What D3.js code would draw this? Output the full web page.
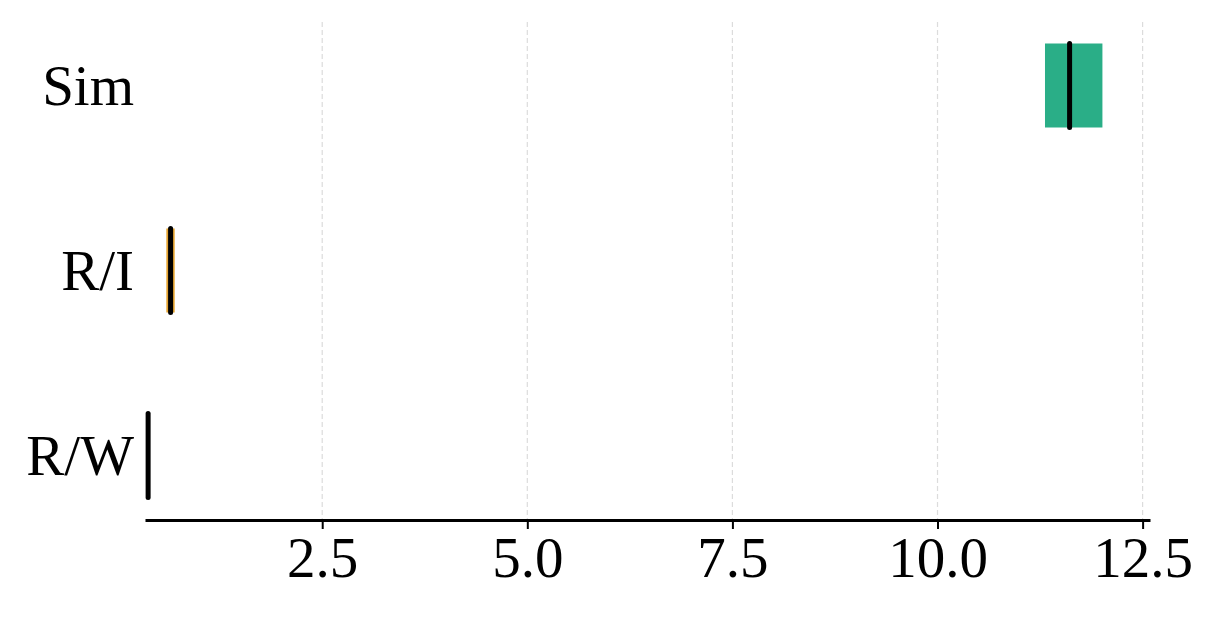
<!DOCTYPE html>
<html>
<head>
<meta charset="utf-8">
<script src="https://cdn.jsdelivr.net/npm/d3@7"></script>
<style>
  body { margin: 0; background: #fff; }
  text { font-family: "Liberation Serif", "Times New Roman", serif; }
</style>
</head>
<body>
<div id="chart"></div>
<script>
// data
var categories = ["Sim", "R/I", "R/W"];
var q1 = [11.31, 0.600, 0.360];
var medians = [11.61, 0.652, 0.378];
var q3 = [12.01, 0.702, 0.395];
var colors = ["#2aae87", "#e6a532", "#2c3e6e"];
var xTicks = [2.5, 5.0, 7.5, 10.0, 12.5];

var svgWidth = 1216, svgHeight = 618;

var svg = d3.select("#chart").append("svg")
  .attr("width", svgWidth)
  .attr("height", svgHeight);

// scales
var xScale = d3.scaleLinear()
  .domain([0.34, 12.59])
  .range([145, 1150]);

var yScale = d3.scalePoint()
  .domain(categories)
  .range([85.5, 455.5]);

var boxHeight = 84;
var axisY = 520;

// gridlines
svg.append("g")
  .selectAll("line")
  .data(xTicks)
  .enter().append("line")
  .attr("x1", d => xScale(d))
  .attr("x2", d => xScale(d))
  .attr("y1", 22)
  .attr("y2", axisY)
  .attr("stroke", "#dcdcdc")
  .attr("stroke-width", 1.2)
  .attr("stroke-dasharray", "5,3");

// boxes
var rows = categories.map((c, i) => ({cat: c, q1: q1[i], med: medians[i], q3: q3[i], color: colors[i]}));

svg.append("g")
  .selectAll("rect")
  .data(rows)
  .enter().append("rect")
  .attr("x", d => xScale(d.q1))
  .attr("width", d => xScale(d.q3) - xScale(d.q1))
  .attr("y", d => yScale(d.cat) - boxHeight / 2)
  .attr("height", boxHeight)
  .attr("fill", d => d.color);

svg.append("g")
  .selectAll("line")
  .data(rows)
  .enter().append("line")
  .attr("x1", d => xScale(d.med))
  .attr("x2", d => xScale(d.med))
  .attr("y1", d => yScale(d.cat) - boxHeight / 2)
  .attr("y2", d => yScale(d.cat) + boxHeight / 2)
  .attr("stroke", "#000")
  .attr("stroke-width", 5)
  .attr("stroke-linecap", "round");

// x axis
var xAxis = d3.axisBottom(xScale)
  .tickValues(xTicks)
  .tickFormat(d3.format(".1f"))
  .tickSizeInner(9)
  .tickSizeOuter(0)
  .tickPadding(8);

var xAxisGroup = svg.append("g")
  .attr("transform", `translate(0, ${axisY})`)
  .call(xAxis);

xAxisGroup.select(".domain")
  .attr("stroke", "#000")
  .attr("stroke-width", 3);
xAxisGroup.selectAll(".tick line")
  .attr("stroke", "#000")
  .attr("stroke-width", 2);
xAxisGroup.selectAll(".tick text")
  .attr("fill", "#000")
  .style("font-family", "'Liberation Serif', serif")
  .style("font-size", "57px");

// y labels (no axis line)
svg.append("g")
  .selectAll("text")
  .data(categories)
  .enter().append("text")
  .attr("x", 134)
  .attr("y", d => yScale(d))
  .attr("dy", "0.35em")
  .attr("text-anchor", "end")
  .attr("fill", "#000")
  .style("font-size", "57px")
  .text(d => d);
</script>
</body>
</html>
